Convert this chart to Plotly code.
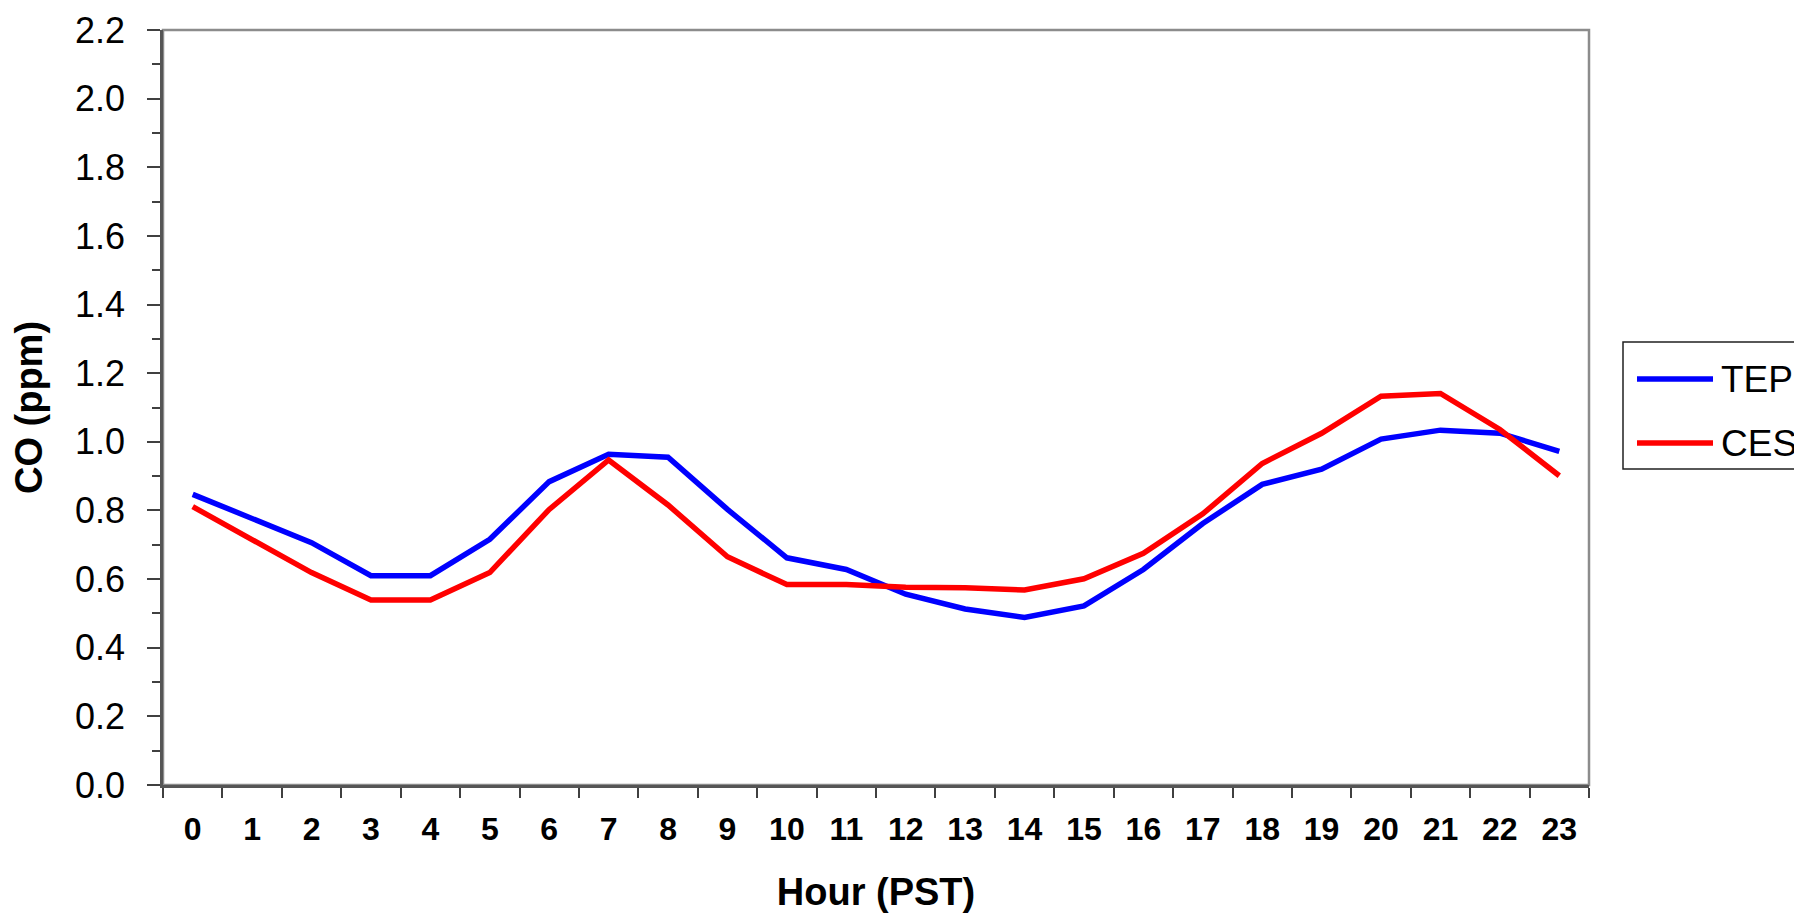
import plotly.graph_objects as go

hours = list(range(24))
tep = [0.847, 0.775, 0.706, 0.610, 0.610, 0.716, 0.884, 0.964, 0.955, 0.803,
       0.662, 0.628, 0.556, 0.513, 0.488, 0.522, 0.628, 0.762, 0.876, 0.920,
       1.008, 1.034, 1.025, 0.972]
ces = [0.811, 0.715, 0.619, 0.539, 0.539, 0.619, 0.803, 0.947, 0.816, 0.665,
       0.584, 0.584, 0.576, 0.575, 0.568, 0.601, 0.675, 0.790, 0.937, 1.025,
       1.133, 1.141, 1.036, 0.901]
series_names = ["TEP", "CES"]
series_colors = ["#0000ff", "#ff0000"]
y_tick_vals = [0.0, 0.2, 0.4, 0.6, 0.8, 1.0, 1.2, 1.4, 1.6, 1.8, 2.0, 2.2]
y_tick_text = ["%.1f" % v for v in y_tick_vals]

FONT = "Liberation Sans, Arial, sans-serif"
# page body has an 8px margin, so the figure is 8px smaller than the window
OFF = 8
W, H = 1802 - OFF, 921 - OFF
L, T = 163 - OFF, 30 - OFF
PW, PH = 1426, 755
R = W - L - PW
B = H - T - PH

fig = go.Figure()
for name, vals, col in zip(series_names, [tep, ces], series_colors):
    fig.add_trace(go.Scatter(x=hours, y=vals, name=name, mode="lines",
                             line=dict(color=col, width=5.5),
                             showlegend=False))

fig.update_layout(
    width=W, height=H,
    margin=dict(l=L, r=R, t=T, b=B, autoexpand=False),
    paper_bgcolor="white", plot_bgcolor="white",
    font=dict(family=FONT, color="black"),
    xaxis=dict(
        type="category", tickson="boundaries", range=[-0.5, 23.5],
        ticks="outside", ticklen=10, tickwidth=2, tickcolor="#404040",
        showline=True, linecolor="#555555", linewidth=2.5,
        showgrid=False, zeroline=False,
        tickfont=dict(size=32, family=FONT, weight="bold"),
        ticklabelstandoff=14,
        title=dict(text="<b>Hour (PST)</b>", font=dict(size=38, family=FONT),
                   standoff=33),
        automargin=False,
    ),
    yaxis=dict(
        range=[0, 2.2], tickvals=y_tick_vals, ticktext=y_tick_text,
        ticks="outside", ticklen=13, tickwidth=2, tickcolor="#404040",
        minor=dict(dtick=0.1, tick0=0, ticks="outside", ticklen=8,
                   tickwidth=2, tickcolor="#404040", showgrid=False),
        showline=True, linecolor="#555555", linewidth=2.5,
        showgrid=False, zeroline=False,
        tickfont=dict(size=36, family=FONT),
        ticklabelstandoff=15,
        title=dict(text="<b>CO (ppm)</b>", font=dict(size=38, family=FONT),
                   standoff=24),
        automargin=False,
    ),
    yaxis2=dict(
        overlaying="y", side="left", range=[0, 2.2], tickvals=y_tick_vals,
        ticks="inside", ticklen=12, tickwidth=2, tickcolor="#404040",
        showticklabels=False, showline=False, showgrid=False, zeroline=False,
        automargin=False,
    ),
)

# plot frame (top/right lighter grey)
fig.add_shape(type="rect", xref="paper", yref="paper", x0=0, x1=1, y0=0, y1=1,
              line=dict(color="#8c8c8c", width=2.5), layer="below")

# legend box drawn in paper coordinates (screen pixels converted)
px = lambda xs: (xs - OFF - L) / PW
py = lambda ys: (T + PH - (ys - OFF)) / PH
fig.add_shape(type="rect", xref="paper", yref="paper",
              x0=px(1623), x1=px(1830), y0=py(469), y1=py(342),
              line=dict(color="#202020", width=1.5), fillcolor="white")
row_y = [379, 443]
for name, col, ry in zip(series_names, series_colors, row_y):
    fig.add_shape(type="line", xref="paper", yref="paper",
                  x0=px(1637), x1=px(1713), y0=py(ry), y1=py(ry),
                  line=dict(color=col, width=5.5))
    fig.add_annotation(xref="paper", yref="paper", x=px(1719), y=py(ry),
                       xanchor="left", yanchor="middle", showarrow=False,
                       text=name, font=dict(size=37, family=FONT, color="black"))

fig.write_html("out.html")
